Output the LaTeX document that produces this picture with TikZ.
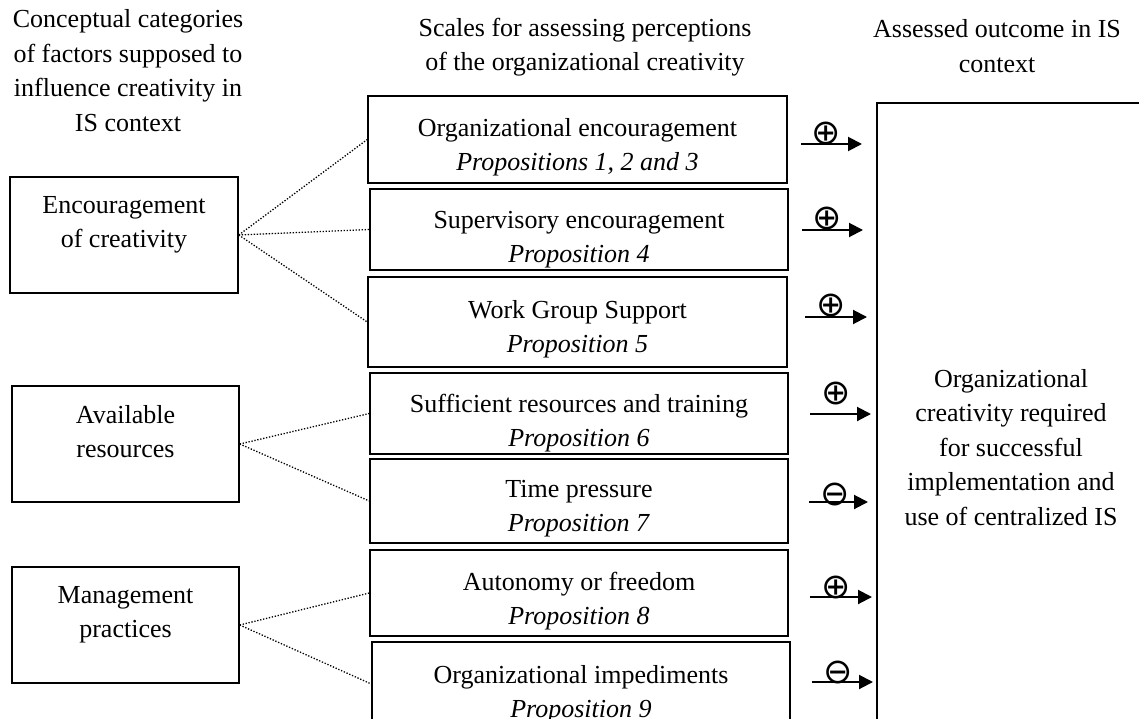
\documentclass[tikz,border=0pt]{standalone}
\usepackage{fontspec}
\setmainfont{Liberation Serif}
\newfontfamily\symf{DejaVu Sans}
\usetikzlibrary{arrows.meta}
\begin{document}
\begin{tikzpicture}[x=1pt,y=-1pt,
  box/.style={draw, line width=1.5pt, inner sep=0pt},
  txt/.style={font=\fontsize{26}{34.5}\selectfont, align=center, anchor=base, inner sep=0pt},
  dotl/.style={line width=1.3pt, dash pattern=on 1.3pt off 1.7pt},
  arr/.style={line width=2pt, -{Triangle[length=14pt,width=14pt]}},
  sign/.style={inner sep=0pt, font=\symf\fontsize{35}{35}\selectfont}
]
\useasboundingbox (0,0) rectangle (1139,719);
\clip (0,0) rectangle (1139,719);

% headers (anchor = baseline of the last line)
\node[txt] (hl) at (128,131.5) {Conceptual categories\\of factors supposed to\\influence creativity in\\IS context};
\node[txt] (hm) at (585,71) {Scales for assessing perceptions\\of the organizational creativity};
\node[txt] (hr) at (997,72.5) {Assessed outcome in IS\\context};

% left boxes
\node[box, minimum width=228, minimum height=116] (enc) at (124,235) {};
\node[box, minimum width=227, minimum height=116] (avail) at (125.5,444) {};
\node[box, minimum width=227, minimum height=116] (mgmt) at (125.5,625) {};
\node[txt] (tenc) at (124,247.5) {Encouragement\\of creativity};
\node[txt] (tavail) at (125.5,457.5) {Available\\resources};
\node[txt] (tmgmt) at (125.5,637.5) {Management\\practices};

% middle boxes
\node[box, minimum width=419, minimum height=87] (b1) at (577.5,139.5) {};
\node[box, minimum width=418, minimum height=81] (b2) at (579,229.5) {};
\node[box, minimum width=419, minimum height=90] (b3) at (577.5,322) {};
\node[box, minimum width=418, minimum height=81] (b4) at (579,413.5) {};
\node[box, minimum width=418, minimum height=84] (b5) at (579,501) {};
\node[box, minimum width=418, minimum height=86] (b6) at (579,593) {};
\node[box, minimum width=418, minimum height=84] (b7) at (581,684) {};

\begin{scope}
\clip ([yshift=-1pt]b1.north west) rectangle ([yshift=3pt]b1.south east);
\node[txt] (t1) at (577.5,171) {Organizational encouragement\\\textit{Propositions 1, 2 and 3}};
\end{scope}
\begin{scope}
\clip ([yshift=-1pt]b2.north west) rectangle ([yshift=3pt]b2.south east);
\node[txt] (t2) at (579,262.5) {Supervisory encouragement\\\textit{Proposition 4}};
\end{scope}
\begin{scope}
\clip ([yshift=-1pt]b3.north west) rectangle ([yshift=3pt]b3.south east);
\node[txt] (t3) at (577.5,352.5) {Work Group Support\\\textit{Proposition 5}};
\end{scope}
\begin{scope}
\clip ([yshift=-1pt]b4.north west) rectangle ([yshift=3pt]b4.south east);
\node[txt] (t4) at (579,446.5) {Sufficient resources and training\\\textit{Proposition 6}};
\end{scope}
\begin{scope}
\clip ([yshift=-1pt]b5.north west) rectangle ([yshift=3pt]b5.south east);
\node[txt] (t5) at (579,531.5) {Time pressure\\\textit{Proposition 7}};
\end{scope}
\begin{scope}
\clip ([yshift=-1pt]b6.north west) rectangle ([yshift=3pt]b6.south east);
\node[txt] (t6) at (579,624.5) {Autonomy or freedom\\\textit{Proposition 8}};
\end{scope}
\begin{scope}
\clip ([yshift=-1pt]b7.north west) rectangle ([yshift=3pt]b7.south east);
\node[txt] (t7) at (581,717.5) {Organizational impediments\\\textit{Proposition 9}};
\end{scope}

% big outcome box
\node[box, minimum width=283, minimum height=657] (big) at (1018.5,431.5) {};
\node[txt] (tbig) at (1011,525) {Organizational\\creativity required\\for successful\\implementation and\\use of centralized IS};

% dotted links
\draw[dotl] (enc.east) -- (b1.west);
\draw[dotl] (enc.east) -- (b2.west);
\draw[dotl] (enc.east) -- (b3.west);
\draw[dotl] (avail.east) -- (b4.west);
\draw[dotl] (avail.east) -- (b5.west);
\draw[dotl] (mgmt.east) -- (b6.west);
\draw[dotl] (mgmt.east) -- (b7.west);

% arrows
\coordinate (s1) at (801,144); \coordinate (e1) at (862,144);
\coordinate (s2) at (802,230); \coordinate (e2) at (863,230);
\coordinate (s3) at (805,317); \coordinate (e3) at (867,317);
\coordinate (s4) at (810,414); \coordinate (e4) at (871,414);
\coordinate (s5) at (809,502); \coordinate (e5) at (868,502);
\coordinate (s6) at (810,597); \coordinate (e6) at (872,597);
\coordinate (s7) at (812,682); \coordinate (e7) at (873,682);
\draw[arr] (s1) -- (e1);
\draw[arr] (s2) -- (e2);
\draw[arr] (s3) -- (e3);
\draw[arr] (s4) -- (e4);
\draw[arr] (s5) -- (e5);
\draw[arr] (s6) -- (e6);
\draw[arr] (s7) -- (e7);

% signs
\node[sign] (p1) at (826,134) {⊕};
\node[sign] (p2) at (827,219) {⊕};
\node[sign] (p3) at (831,306) {⊕};
\node[sign] (p4) at (836,394) {⊕};
\node[sign] (p5) at (835,494) {⊖};
\node[sign] (p6) at (836,587) {⊕};
\node[sign] (p7) at (838,672) {⊖};
\end{tikzpicture}
\end{document}
